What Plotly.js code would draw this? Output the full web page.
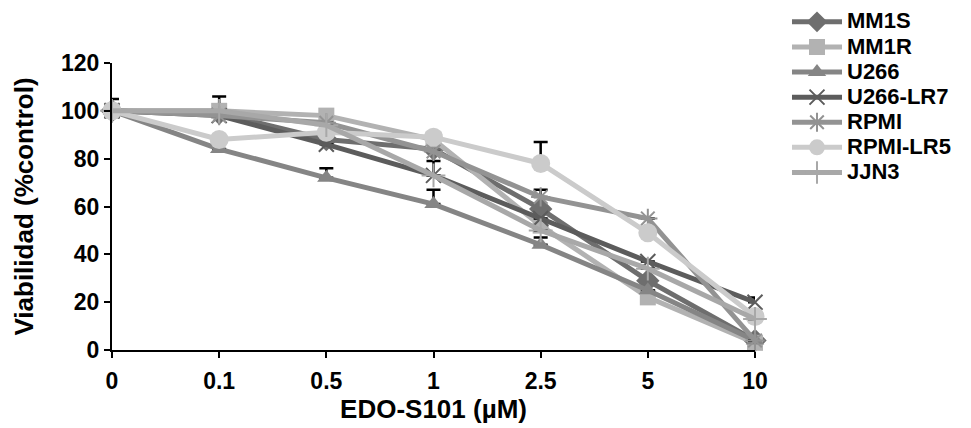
<!DOCTYPE html>
<html>
<head>
<meta charset="utf-8">
<script src="https://cdn.plot.ly/plotly-3.0.1.min.js"></script>
<style>html,body{margin:0;padding:0;background:#fff;}#chart{width:971px;height:428px;}</style>
</head>
<body>
<div id="chart"></div>
<script>
const doses = ["0", "0.1", "0.5", "1", "2.5", "5", "10"];
const seriesNames = ["MM1S", "MM1R", "U266", "U266-LR7", "RPMI", "RPMI-LR5", "JJN3"];
const mm1s    = [100, 99, 88, 84, 59, 29, 4];
const mm1r    = [100, 100, 98, 88, 52, 22, 3];
const u266    = [100, 84, 72, 61, 44, 25, 4];
const u266lr7 = [100, 98, 86, 73, 55, 37, 20];
const rpmi    = [100, 98, 95, 83, 64, 55, 4];
const rpmilr5 = [100, 88, 91, 89, 78, 49, 14];
const jjn3    = [100, 100, 94, 73, 50, 34, 13];
// upper error bars
const errMm1s    = [5, 0, 0, 0, 0, 0, 0];
const errMm1r    = [0, 6, 0, 0, 0, 0, 0];
const errU266    = [0, 0, 4, 6, 3, 0, 0];
const errU266lr7 = [0, 0, 0, 6, 0, 0, 2];
const errRpmi    = [0, 0, 0, 0, 3, 0, 0];
const errRpmilr5 = [0, 0, 0, 0, 9, 0, 0];
const errJjn3    = [0, 0, 0, 0, 0, 0, 0];

const values = [mm1s, mm1r, u266, u266lr7, rpmi, rpmilr5, jjn3];
const errs = [errMm1s, errMm1r, errU266, errU266lr7, errRpmi, errRpmilr5, errJjn3];
const colors = ["#6e6e6e", "#b2b2b2", "#858585", "#5c5c5c", "#939393", "#cbcbcb", "#a8a8a8"];
const symbols = ["diamond", "square", "triangle-up", "x-thin-open", "asterisk-open", "circle", "cross-thin-open"];
const sizes = [18, 16, 16, 15, 16, 19, 17];

const traces = seriesNames.map((n, i) => ({
  type: "scatter",
  mode: "lines+markers",
  name: '<span style="font-size:22px">' + n + '</span>',
  x: doses,
  y: values[i],
  cliponaxis: false,
  line: {color: colors[i], width: 5},
  marker: {symbol: symbols[i], size: sizes[i], color: colors[i],
           line: {color: colors[i], width: (symbols[i].indexOf("open") >= 0 ? 2 : 0)}},
  error_y: {type: "data", symmetric: false, array: errs[i], arrayminus: errs[i].map(() => 0),
            color: "#000", thickness: 2.5, width: 7, visible: true}
}));

const layout = {
  width: 971, height: 428,
  margin: {l: 112, r: 216, t: 63, b: 78, autoexpand: false},
  paper_bgcolor: "#fff", plot_bgcolor: "#fff",
  font: {family: "Liberation Sans, Arial, sans-serif", color: "#000"},
  showlegend: true,
  legend: {xref: "container", yref: "container", x: 0.8105, y: 0.99, xanchor: "left", yanchor: "top",
           tracegroupgap: 0, itemwidth: 50,
           font: {size: 17, family: "Liberation Sans, Arial, sans-serif", weight: "bold", color: "#000"}},
  xaxis: {type: "category", range: [0, 6], showgrid: false, zeroline: false,
          showline: true, linecolor: "#000", linewidth: 2,
          ticks: "outside", ticklen: 6, tickwidth: 2, tickcolor: "#000",
          ticklabelstandoff: 3,
          tickfont: {size: 23, weight: "bold"},
          title: {text: "EDO-S101 (µM)", font: {size: 26, weight: "bold"}, standoff: 5}},
  yaxis: {range: [0, 120], dtick: 20, showgrid: false, zeroline: false,
          showline: true, linecolor: "#000", linewidth: 2,
          ticks: "outside", ticklen: 6, tickwidth: 2, tickcolor: "#000",
          tickfont: {size: 23, weight: "bold"},
          title: {text: "Viabilidad (%control)", font: {size: 26, weight: "bold"}, standoff: 20}}
};

Plotly.newPlot("chart", traces, layout, {displayModeBar: false, staticPlot: true});
</script>
</body>
</html>
